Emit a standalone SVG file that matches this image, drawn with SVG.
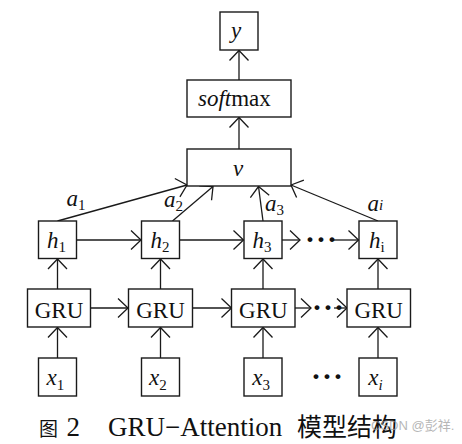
<svg xmlns="http://www.w3.org/2000/svg" width="462" height="444" viewBox="0 0 462 444">
<style>
.box{fill:#fff;stroke:#1a1a1a;stroke-width:1.4}
.ln{fill:none;stroke:#1a1a1a;stroke-width:1.3}
text{font-family:"Liberation Serif","Times New Roman",serif;fill:#111;font-size:23px}
.i{font-style:italic}
.sub{font-size:15px}
.c{text-anchor:middle}
.dots{font-size:30px;font-weight:bold;letter-spacing:1px}
.cjk{font-family:"Noto Sans CJK SC",sans-serif}
</style>
<defs>
<marker id="ah" markerUnits="userSpaceOnUse" markerWidth="24" markerHeight="24" viewBox="-12 -12 24 24" refX="0" refY="0" orient="auto">
<path d="M-10,-9.5 L0,0 L-10,9.5" fill="none" stroke="#1a1a1a" stroke-width="1.3"/>
</marker>
</defs>
<g id="connectors">
<line class="ln" x1="239" y1="80" x2="239" y2="50.5" marker-end="url(#ah)"/>
<line class="ln" x1="239" y1="149" x2="239" y2="117.5" marker-end="url(#ah)"/>
<line class="ln" x1="57.5" y1="221" x2="187" y2="185" marker-end="url(#ah)"/>
<line class="ln" x1="172.5" y1="221" x2="213" y2="186.5" marker-end="url(#ah)"/>
<line class="ln" x1="263" y1="221" x2="258.5" y2="186.5" marker-end="url(#ah)"/>
<line class="ln" x1="378" y1="221" x2="291" y2="185" marker-end="url(#ah)"/>
<line class="ln" x1="76.5" y1="240" x2="141" y2="240" marker-end="url(#ah)"/>
<line class="ln" x1="179.5" y1="240" x2="243.5" y2="240" marker-end="url(#ah)"/>
<line class="ln" x1="282" y1="240" x2="300" y2="240" marker-end="url(#ah)"/>
<line class="ln" x1="331" y1="240" x2="358.5" y2="240" marker-end="url(#ah)"/>
<line class="ln" x1="57.5" y1="289" x2="57.5" y2="259" marker-end="url(#ah)"/>
<line class="ln" x1="160.5" y1="289" x2="160.5" y2="259" marker-end="url(#ah)"/>
<line class="ln" x1="263" y1="289" x2="263" y2="259" marker-end="url(#ah)"/>
<line class="ln" x1="378" y1="289" x2="378" y2="259" marker-end="url(#ah)"/>
<line class="ln" x1="90.5" y1="308" x2="128" y2="308" marker-end="url(#ah)"/>
<line class="ln" x1="192.5" y1="308" x2="231.5" y2="308" marker-end="url(#ah)"/>
<line class="ln" x1="295" y1="308" x2="311" y2="308" marker-end="url(#ah)"/>
<line class="ln" x1="334" y1="308" x2="347" y2="308" marker-end="url(#ah)"/>
<line class="ln" x1="57.5" y1="358" x2="57.5" y2="327.5" marker-end="url(#ah)"/>
<line class="ln" x1="160.5" y1="358" x2="160.5" y2="327.5" marker-end="url(#ah)"/>
<line class="ln" x1="263" y1="358" x2="263" y2="327.5" marker-end="url(#ah)"/>
<line class="ln" x1="378" y1="358" x2="378" y2="327.5" marker-end="url(#ah)"/>
<text x="66.5" y="206"><tspan class="i">a</tspan><tspan class="sub" dy="4">1</tspan></text>
<text x="164" y="206.5"><tspan class="i">a</tspan><tspan class="sub" dy="4.5">2</tspan></text>
<text x="265" y="211"><tspan class="i">a</tspan><tspan class="sub" dy="4">3</tspan></text>
<text x="367.5" y="211"><tspan class="i">a</tspan><tspan class="sub i" dy="-1">i</tspan></text>
<text class="dots" x="305" y="249">···</text>
<text class="dots" x="312" y="317">···</text>
<text class="dots" x="311" y="385.5">···</text>
</g>
<g id="y"><rect class="box" x="220" y="12" width="38" height="38"/><text class="i" x="231" y="38">y</text></g>
<g id="softmax"><rect class="box" x="187" y="80" width="104" height="37"/><text x="198" y="106"><tspan class="i">soft</tspan>max</text></g>
<g id="v"><rect class="box" x="187" y="149" width="104" height="37"/><text class="i" x="233" y="176">v</text></g>
<g id="h1"><rect class="box" x="38.5" y="221" width="38" height="37.5"/><text x="47" y="247.5"><tspan class="i">h</tspan><tspan class="sub" dy="4.5">1</tspan></text></g>
<g id="h2"><rect class="box" x="141.5" y="221" width="38" height="37.5"/><text x="150.5" y="247.5"><tspan class="i">h</tspan><tspan class="sub" dy="4.5">2</tspan></text></g>
<g id="h3"><rect class="box" x="244" y="221" width="38" height="37.5"/><text x="252.5" y="247.5"><tspan class="i">h</tspan><tspan class="sub" dy="4.5">3</tspan></text></g>
<g id="hi"><rect class="box" x="359" y="221" width="38" height="37.5"/><text x="369" y="247.5"><tspan class="i">h</tspan><tspan class="sub" dy="4.5">i</tspan></text></g>
<g id="gru1"><rect class="box" x="27.5" y="289" width="63" height="38"/><text class="c" x="59" y="317.5">GRU</text></g>
<g id="gru2"><rect class="box" x="128.5" y="289" width="64" height="38"/><text class="c" x="160.5" y="317.5">GRU</text></g>
<g id="gru3"><rect class="box" x="231.5" y="289" width="63.5" height="38"/><text class="c" x="263.3" y="317.5">GRU</text></g>
<g id="gru4"><rect class="box" x="347" y="289" width="63.5" height="38"/><text class="c" x="378.7" y="317.5">GRU</text></g>
<g id="x1"><rect class="box" x="38.5" y="358" width="38" height="38"/><text x="46.5" y="385"><tspan class="i">x</tspan><tspan class="sub" dy="5">1</tspan></text></g>
<g id="x2"><rect class="box" x="141.5" y="358" width="38" height="38"/><text x="149" y="385"><tspan class="i">x</tspan><tspan class="sub" dy="5">2</tspan></text></g>
<g id="x3"><rect class="box" x="244" y="358" width="38" height="38"/><text x="252.3" y="385"><tspan class="i">x</tspan><tspan class="sub" dy="5">3</tspan></text></g>
<g id="xi"><rect class="box" x="359" y="358" width="38" height="38"/><text x="368.3" y="385"><tspan class="i">x</tspan><tspan class="sub i" dy="5">i</tspan></text></g>
<g id="caption">
<text y="436"><tspan class="cjk" x="39" font-size="19">图</tspan><tspan x="66.5" font-size="27">2</tspan><tspan x="108" font-size="27">GRU−Attention</tspan><tspan class="cjk" x="297" font-size="25">模型结构</tspan></text>
<text x="371" y="430" style="font-family:'Liberation Sans','Noto Sans CJK SC',sans-serif;font-size:13px;fill:#999;opacity:0.7">CSDN @彭祥.</text>
</g>
</svg>
